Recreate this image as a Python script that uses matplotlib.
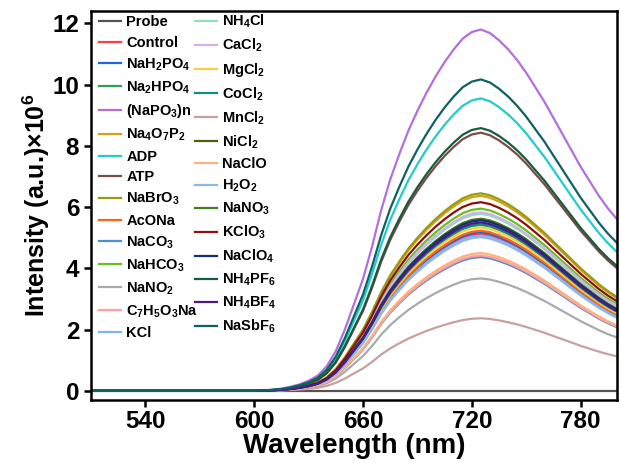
import numpy as np
import matplotlib
matplotlib.use('Agg')
import matplotlib.pyplot as plt

# Fuente tipo Arial en negrita para todo el gráfico (también subíndices)
plt.rcParams['font.family'] = 'Liberation Sans'
plt.rcParams['font.weight'] = 'bold'
plt.rcParams['mathtext.fontset'] = 'custom'
plt.rcParams['mathtext.bf'] = 'Liberation Sans:bold'
plt.rcParams['mathtext.rm'] = 'Liberation Sans:bold'
plt.rcParams['mathtext.default'] = 'bf'

# Longitudes de onda (nm) y perfil de emisión normalizado
longitudes = [510, 520, 540, 560, 580, 600, 610, 615, 620, 625, 630, 635, 640, 645,
              650, 655, 660, 665, 670, 675, 680, 685, 690, 695, 700, 705, 710,
              715, 720, 725, 730, 735, 740, 745, 750, 755, 760, 765, 770, 775,
              780, 785, 790, 795, 800]
perfil = [0.0, 0.0, 0.0, 0.0, 0.0, 0.0, 0.003, 0.006, 0.011, 0.018, 0.028, 0.042,
          0.068, 0.11, 0.17, 0.24, 0.31, 0.40, 0.50, 0.585, 0.655, 0.72, 0.775,
          0.825, 0.87, 0.91, 0.945, 0.975, 0.993, 1.0, 0.99, 0.97, 0.945, 0.915,
          0.88, 0.84, 0.80, 0.755, 0.71, 0.665, 0.62, 0.58, 0.54, 0.505, 0.475]

# Analitos, intensidad máxima (x10^6) y color de cada curva
analitos = ['Probe', 'Control', r'NaH$_2$PO$_4$', r'Na$_2$HPO$_4$', r'(NaPO$_3$)n',
            r'Na$_4$O$_7$P$_2$', 'ADP', 'ATP', r'NaBrO$_3$', 'AcONa', r'NaCO$_3$',
            r'NaHCO$_3$', r'NaNO$_2$', r'C$_7$H$_5$O$_3$Na', 'KCl',
            r'NH$_4$Cl', r'CaCl$_2$', r'MgCl$_2$', r'CoCl$_2$', r'MnCl$_2$',
            r'NiCl$_2$', 'NaClO', r'H$_2$O$_2$', r'NaNO$_3$', r'KClO$_3$',
            r'NaClO$_4$', r'NH$_4$PF$_6$', r'NH$_4$BF$_4$', r'NaSbF$_6$']
maximos = [0.0, 5.12, 5.18, 5.42, 11.8, 6.37, 9.55, 8.43, 6.45, 5.23, 4.37,
           5.95, 3.67, 4.42, 5.07, 5.78, 5.83, 5.34, 5.44, 2.37, 5.62, 4.5,
           5.02, 5.6, 6.16, 5.57, 8.58, 5.5, 10.17]
colores = ['#555555', '#ff3b3b', '#1a66e6', '#2ca05a', '#b36ee0', '#d4a017',
           '#20cccc', '#7b4a4a', '#9a9a10', '#ff6417', '#4f8fcf', '#66c21a',
           '#aaaaaa', '#ff9f9f', '#84b4f0', '#8fe0b4', '#d2b0f0', '#f5d040',
           '#128a8a', '#c8a0a0', '#4f5f10', '#ffb080', '#8fb7e6', '#3f8020',
           '#8c1010', '#14306e', '#1b5a3c', '#4c1a88', '#0e6262']

fig = plt.figure(figsize=(6.21, 4.63), dpi=100)
ax = fig.add_axes([0.1465, 0.136, 0.847, 0.84])

x = np.array(longitudes)
p = np.array(perfil)
for nombre, maximo, color in zip(analitos, maximos, colores):
    ax.plot(x, maximo * p, color=color, lw=1.6, label=nombre)

ax.set_xlim(510, 800)
ax.set_ylim(-0.3, 12.4)
ax.set_xticks([540, 600, 660, 720, 780])
ax.set_yticks([0, 2, 4, 6, 8, 10, 12])
ax.tick_params(axis='both', labelsize=17.5, width=1.8, length=5, direction='out')
ax.tick_params(axis='x', pad=2)
for lado in ['top', 'right', 'bottom', 'left']:
    ax.spines[lado].set_linewidth(1.8)

ax.set_xlabel('Wavelength (nm)', fontsize=20, fontweight='bold', labelpad=0)
ax.set_ylabel(r'Intensity (a.u.)×10$^6$', fontsize=18, fontweight='bold', labelpad=0)

# Leyenda en dos columnas sin marco
ax.legend(loc='upper left', ncol=2, frameon=False, fontsize=10.5,
          handlelength=1.5, handletextpad=0.35, columnspacing=-0.2,
          labelspacing=0.45, borderaxespad=0.0, bbox_to_anchor=(0.005, 1.01))

fig.savefig('out.png', dpi=100)
